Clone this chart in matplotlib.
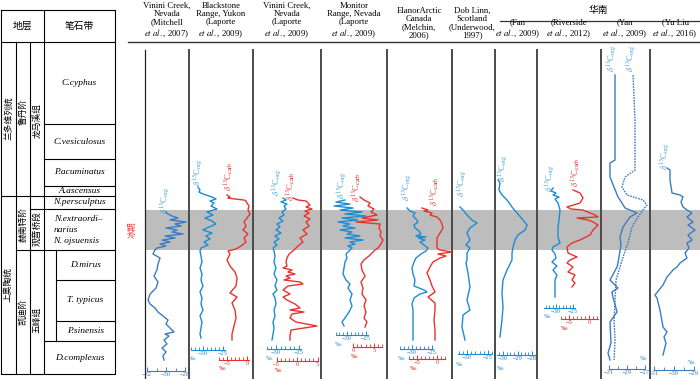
import numpy as np
import matplotlib
matplotlib.use('Agg')
import matplotlib.pyplot as plt
from matplotlib.ticker import FixedLocator

plt.rcParams['font.family'] = ['Liberation Serif', 'Noto Sans CJK SC']
plt.rcParams['mathtext.fontset'] = 'stix'

W, H = 700, 379
BLUE = '#1c8cd4'
BLUE2 = '#3a7cc4'
RED = '#e8332c'
LBLUE = '#3a9fe0'

# ---- stratigraphic column (graptolite zones, depth in section rows) ----
zone_names = ['C.cyphus', 'C.vesiculosus', 'P.acuminatus', 'A.ascensus', 'N.persculptus',
              '', 'D.mirus', 'T. typicus', 'P.sinensis', 'D.complexus']
zone_bounds = [42, 124, 159, 186, 196, 209, 250, 280, 321, 341, 374]
glacial = (210, 250)

# ---- carbon isotope curves: depth (rows) and delta13C (permil) ----
mitchell_d = [212, 214, 216, 218, 220, 222, 224, 226, 228, 230, 232, 234, 236, 238, 240, 242, 244,
              246, 248, 250, 254, 258, 264, 270, 276, 282, 288, 294, 300, 304, 308, 312, 316, 320,
              324, 328, 332, 334, 336, 340, 344, 348, 352, 356, 360]
mitchell_org = [-30.0, -29.79, -29.37, -28.74, -29.58, -27.89, -29.05, -28.42, -30.0, -28.84,
                -29.37, -28.21, -30.11, -29.05, -30.42, -29.58, -30.63, -30.0, -30.95, -31.16,
                -31.37, -30.63, -30.84, -30.95, -31.26, -30.84, -31.05, -31.68, -31.89, -31.68,
                -31.16, -30.84, -30.32, -29.79, -30.0, -29.58, -29.16, -30.11, -29.68, -30.21,
                -29.9, -30.42, -30.0, -30.32, -30.21]

blackstone_d = [187, 190, 192, 194, 197, 199, 201, 203, 206, 209, 212, 215, 218, 221, 224, 227, 230,
                233, 236, 239, 242, 245, 248, 251, 256, 262, 268, 274, 280, 286, 292, 298, 304,
                310, 316, 322, 328, 334, 338]
blackstone_org = [-31.25, -30.75, -31.0, -30.0, -27.75, -26.75, -28.25, -27.25, -28.0, -26.5,
                  -29.0, -27.5, -29.5, -27.75, -26.75, -28.5, -30.0, -27.75, -29.25, -28.25,
                  -29.75, -28.75, -30.5, -30.75, -30.5, -30.25, -30.75, -30.25, -30.5, -30.0,
                  -30.75, -30.25, -30.5, -30.0, -30.75, -30.25, -30.5, -30.75, -30.5]
blackstone_cd = [195, 197, 198, 199, 200, 201, 203, 206, 210, 214, 218, 222, 226, 230, 234, 238,
                 242, 246, 249, 251, 254, 260, 266, 272, 278, 286, 293, 297, 303, 310, 318, 326,
                 334, 340]
blackstone_carb = [-5.0, -4.25, -4.75, -3.0, -0.75, -0.25, 0.0, 0.5, 0.25, 0.75, 0.0, -0.75,
                   -0.25, -1.0, 0.25, -0.75, -0.25, -1.5, -2.75, -4.75, -4.25, -5.0, -4.25, -3.0,
                   -2.5, -2.75, -4.25, -2.5, -3.75, -3.0, -2.75, -3.25, -3.75, -3.75]

vinini_d = [198, 200, 202, 204, 206, 209, 212, 215, 218, 221, 224, 227, 230, 233, 236, 239, 242,
            245, 248, 251, 256, 262, 268, 274, 280, 286, 290, 294, 298, 304, 310, 316, 322, 328,
            334, 340]
vinini_org = [-28.48, -27.83, -28.91, -27.61, -28.26, -27.83, -28.7, -28.26, -29.35, -28.48,
              -29.78, -29.13, -30.0, -28.91, -30.22, -29.35, -30.43, -29.78, -30.65, -30.43,
              -30.22, -30.43, -30.0, -30.43, -29.78, -30.22, -29.78, -30.65, -30.22, -30.0,
              -30.43, -30.22, -30.65, -30.43, -30.65, -30.87]
vinini_cd = [198, 200, 201, 203, 205, 207, 209, 211, 213, 216, 219, 222, 226, 230, 234, 238, 242,
             246, 250, 254, 258, 262, 266, 268, 270, 272, 274, 276, 278, 280, 282, 284, 286, 290,
             294, 297, 300, 304, 308, 310, 312, 314, 318, 322, 326, 330, 336, 340]
vinini_carb = [-0.98, 0.24, 2.2, 2.68, 3.17, 2.2, 3.66, 1.95, 2.93, 1.71, 3.17, 2.2, 2.93, 1.46,
               2.44, 0.73, 1.46, 0.24, -0.73, -1.95, -2.44, -2.68, -2.44, -3.41, -1.22, -2.2,
               -0.49, -2.68, -1.71, -3.17, 0.73, 1.46, -2.2, -3.41, -1.71, -3.41, -2.44, -0.49,
               0.73, -1.71, 1.71, -1.22, -1.71, -0.24, 4.88, -1.46, -1.71, -1.71]

monitor_d = [200, 202, 204, 206, 208, 210, 212, 214, 216, 218, 220, 222, 224, 226, 228, 230, 232,
             234, 236, 238, 240, 242, 244, 246, 248, 250, 254, 258, 262, 268, 274, 280, 284, 288,
             294, 300, 306, 312, 318, 322, 326]
monitor_org = [-30.53, -32.9, -29.21, -33.4, -28.4, -31.84, -26.0, -30.53, -25.0, -31.32,
               -27.2, -32.37, -29.21, -31.05, -27.9, -31.84, -28.68, -30.0, -26.6, -30.53,
               -25.8, -29.21, -27.89, -29.74, -28.68, -29.21, -30.26, -30.0, -30.53, -30.79,
               -31.05, -30.26, -29.21, -29.74, -28.68, -29.21, -28.68, -29.47, -30.53, -31.32,
               -30.79]
monitor_cd = [197, 200, 203, 206, 209, 212, 215, 218, 220, 222, 224, 228, 232, 236, 240, 244, 248,
              250, 252, 256, 260, 264, 270, 276, 282, 288, 294, 300, 306, 312, 318, 322, 327]
monitor_carb = [1.67, 2.62, 4.05, 3.57, 5.0, 4.29, 5.71, 2.14, 5.95, 0.71, 6.43, 6.19, 6.67, 6.43,
                7.14, 6.67, 5.95, 5.24, 4.76, 3.81, 2.62, 1.9, 2.14, 2.86, 1.9, 2.38, 2.14, 3.1,
                2.62, 3.1, 2.62, 3.33, 2.86]

elanor_d = [208, 211, 213, 216, 219, 222, 225, 228, 231, 234, 236, 237, 238, 240, 242, 245, 248,
            251, 254, 258, 262, 268, 274, 280, 286, 290, 292, 294, 298, 304, 310, 320, 330, 340]
elanor_org = [-31.25, -30.5, -29.25, -29.75, -29.0, -28.5, -29.5, -29.25, -28.25, -27.75, -29.0,
              -26.5, -28.5, -26.75, -28.0, -27.0, -26.0, -26.5, -27.75, -29.0, -29.5, -30.0,
              -29.75, -29.25, -29.5, -27.0, -26.25, -28.0, -29.5, -30.0, -29.75, -29.75, -29.75,
              -29.75]
elanor_cd = [208, 210, 211, 213, 215, 217, 220, 224, 228, 233, 238, 244, 248, 250, 252, 254, 256,
             258, 262, 267, 273, 280, 286, 292, 297, 303, 310, 320, 330, 340]
elanor_carb = [-3.75, -2.25, -3.25, -1.25, -1.75, 0.0, 0.75, 1.25, 1.5, 0.75, 0.0, 0.0, 0.0, 0.75,
               3.75, 0.25, 2.25, 0.75, -1.0, -1.75, -2.5, -1.75, -1.25, -0.5, -2.25, -0.5, -0.5,
               -0.75, -0.5, -0.5]

doblinn_d = [207, 210, 215, 220, 223, 228, 233, 240, 245, 248, 253, 260, 263, 273, 287, 300, 310,
             315, 327, 340]
doblinn_org = [-31.67, -30.95, -30.0, -28.81, -27.62, -29.29, -30.0, -29.29, -30.24, -29.29,
               -30.0, -30.0, -30.24, -29.76, -29.29, -30.0, -29.29, -30.95, -31.19, -30.48]

fan_d = [180, 183, 190, 195, 200, 207, 213, 220, 225, 230, 235, 240, 247, 253, 260, 270, 280, 293,
         307, 320, 337]
fan_org = [-30.34, -30.21, -30.28, -30.07, -29.72, -29.38, -29.03, -28.62, -28.34, -28.48, -28.97,
           -29.17, -29.31, -29.38, -29.38, -29.72, -30.0, -30.07, -30.0, -30.07, -30.21]

riverside_d = [188, 191, 193, 195, 197, 199, 203, 210, 220, 227, 237, 243, 247, 250, 254, 258, 262,
               266, 270, 275, 280, 285, 297]
riverside_org = [-30.88, -31.47, -30.0, -30.88, -29.12, -30.29, -29.41, -28.82, -29.12, -29.41,
                 -29.41, -28.82, -30.88, -31.18, -30.29, -30.0, -31.18, -29.71, -30.88, -29.71,
                 -30.29, -30.29, -30.29]
riverside_cd = [190, 193, 198, 203, 207, 209, 210, 213, 215, 217, 218, 220, 222, 225, 230, 235, 240,
                243, 247, 253, 257, 260, 263, 267, 272, 275, 280, 283, 287]
riverside_carb = [-4.0, -2.25, -1.5, -2.25, -5.5, -4.5, -1.5, 0.25, 1.5, 2.25, -3.0, -0.25, 1.0,
                  2.25, 1.0, 0.25, -2.25, -4.25, -5.5, -5.25, -3.0, -4.75, -5.5, -4.0, -5.25,
                  -3.5, -4.25, -3.5, -4.25]

yan_d = [75, 160, 163, 177, 197, 203, 208, 213, 217, 227, 237, 245, 263, 267, 280, 288, 292, 297,
         312, 322, 343, 353, 360]
yan_org = [-30.33, -30.33, -30.89, -30.89, -30.0, -29.56, -29.22, -27.89, -28.67, -29.44, -29.78,
           -29.67, -30.0, -30.11, -30.89, -30.0, -30.67, -30.56, -30.11, -30.89, -30.78, -31.11,
           -30.89]
yan2_d = [75, 120, 170, 177, 187, 195, 200, 205, 210, 217, 227, 243, 257, 267, 280, 300, 320, 340,
          360]
yan2_org = [-28.33, -28.11, -28.11, -29.22, -29.56, -29.0, -27.22, -26.78, -27.22, -27.78, -28.44,
            -28.89, -29.44, -29.78, -30.22, -30.33, -30.44, -30.33, -30.44]

yuliu_d = [168, 170, 180, 193, 195, 197, 202, 207, 210, 213, 217, 222, 225, 230, 235, 240, 243, 248,
           253, 258, 263, 267, 270, 277, 285, 295, 298, 310, 327, 332, 337, 343, 355]
yuliu_org = [-30.35, -30.2, -30.2, -30.1, -29.7, -29.55, -29.65, -29.55, -29.35, -29.1, -29.35,
             -29.05, -29.3, -28.95, -29.3, -29.1, -29.35, -29.25, -29.45, -29.35, -29.7, -29.85,
             -30.05, -30.35, -30.55, -30.95, -30.85, -30.7, -30.55, -30.35, -30.5, -30.4, -30.55]

headers = ['Vinini Creek,\nNevada\n(Mitchell\n$\\mathit{et\\ al.}$, 2007)',
           'Blackstone\nRange, Yukon\n(Laporte\n$\\mathit{et\\ al.}$, 2009)',
           'Vinini Creek,\nNevada\n(Laporte\n$\\mathit{et\\ al.}$, 2009)',
           'Monitor\nRange, Nevada\n(Laporte\n$\\mathit{et\\ al.}$, 2009)',
           'ElanorArctic\nCanada\n(Melchin,\n2006)',
           'Dob Linn,\nScotland\n(Underwood,\n1997)',
           '(Fan\n$\\mathit{et\\ al.}$, 2009)',
           '(Riverside\n$\\mathit{et\\ al.}$, 2012)',
           '(Yan\n$\\mathit{et\\ al.}$, 2009)',
           '(Yu Liu\n$\\mathit{et\\ al.}$, 2016)']
header_x = [167, 221, 287, 354, 419, 472, 518, 569, 625, 675]

seps = [145, 189, 253, 321, 387, 452, 495, 537, 601, 650, 700]

fig = plt.figure(figsize=(7, 3.79), dpi=100)
bg = fig.add_axes([0, 0, 1, 1])
bg.set_xlim(0, W)
bg.set_ylim(H, 0)
bg.axis('off')

# glacial band
bg.axhspan(glacial[0], glacial[1], xmin=146 / W, xmax=1, color='#bdbdbd', lw=0, zorder=0)
bg.text(133, 230, '冰期', color=RED, fontsize=6, rotation=90, ha='center', va='center')

# table
lk = dict(color='black', lw=0.8)
bg.plot([1, 115, 115, 1, 1], [10, 10, 374, 374, 10], **lk)
bg.plot([1, 115], [42, 42], **lk)
bg.plot([44, 44], [10, 374], **lk)
bg.plot([16, 16], [42, 374], **lk)
bg.plot([30, 30], [42, 374], **lk)
bg.plot([56, 56], [250, 341], **lk)
bg.plot([1, 115], [196, 196], **lk)
bg.plot([30, 115], [209, 209], **lk)
bg.plot([16, 115], [250, 250], **lk)
for yb in zone_bounds[1:4]:
    bg.plot([44, 115], [yb, yb], **lk)
for yb in zone_bounds[7:9]:
    bg.plot([56, 115], [yb, yb], **lk)
bg.plot([44, 115], [341, 341], **lk)

bg.text(22, 26, '地层', fontsize=7, ha='center', va='center')
bg.text(79, 26, '笔石带', fontsize=7, ha='center', va='center')
vt = dict(fontsize=6.3, rotation=90, ha='center', va='center')
bg.text(8.5, 118, '兰多维列统', **vt)
bg.text(8.5, 284, '上奥陶统', **vt)
bg.text(23, 112, '鲁丹阶', **vt)
bg.text(23, 224, '赫南特阶', **vt)
bg.text(23, 312, '凯迪阶', **vt)
bg.text(37, 120, '龙马溪组', **vt)
bg.text(37, 229, '观音桥段', **vt)
bg.text(37, 320, '五峰组', **vt)

for i, name in enumerate(zone_names):
    if not name:
        continue
    yc = (zone_bounds[i] + zone_bounds[i + 1]) / 2
    xc = 85.5 if 6 <= i <= 8 else 79.5
    bg.text(xc, yc, name, fontsize=6.8, style='italic', ha='center', va='center')
bg.text(54, 219, 'N.extraordi–', fontsize=6.8, style='italic', ha='left', va='center')
bg.text(54, 230, 'narius', fontsize=6.8, style='italic', ha='left', va='center')
bg.text(53, 241, 'N. ojsuensis', fontsize=6.8, style='italic', ha='left', va='center')

# panel separators and header
for i, xs in enumerate(seps[:-1]):
    bg.plot([xs, xs], [50, H], color='#4a4a4a' if i else '#222222', lw=1.4 if i else 0.9)
bg.plot([128, 700], [42, 42], color='#333333', lw=1.0)
bg.plot([500, 700], [21, 21], color='#333333', lw=0.9)
bg.text(598, 10, '华南', fontsize=7, ha='center', va='center')
for txt, xc in zip(headers, header_x):
    bg.text(xc, 39.5, txt, fontsize=6.3, ha='center', va='bottom', linespacing=1.05,
            multialignment='center')


def panel(x0, x1, ref_px, ref_val, ppu):
    ax = fig.add_axes([x0 / W, 0, (x1 - x0) / W, 1])
    ax.set_xlim(ref_val - (ref_px - x0) / ppu, ref_val + (x1 - ref_px) / ppu)
    ax.set_ylim(H, 0)
    ax.patch.set_alpha(0)
    for s in ax.spines.values():
        s.set_visible(False)
    ax.set_yticks([])
    ax.set_xticks([])
    return ax


def scale_bar(ax, y, lo, hi, major, step, color):
    sp = ax.spines['bottom']
    sp.set_visible(True)
    sp.set_position(('data', y))
    sp.set_bounds(lo, hi)
    sp.set_color(color)
    sp.set_linewidth(0.8)
    ax.set_xticks(major)
    ax.set_xticklabels([('%g' % v).replace('-', '−') for v in major])
    minor = np.arange(np.ceil(lo / step) * step, hi + 1e-6, step)
    ax.xaxis.set_minor_locator(FixedLocator(minor))
    ax.tick_params(axis='x', which='major', direction='in', length=3, width=0.7,
                   color=color, labelcolor=color, labelsize=4.6, pad=1)
    ax.tick_params(axis='x', which='minor', direction='in', length=2, width=0.6, color=color)


def permil(x, y, color):
    bg.text(x, y, '‰', color=color, fontsize=4.6, ha='left', va='center')


def dlabel(x, y, sub, color):
    bg.text(x, y, r'$\delta^{13}$C$_{\rm %s}$' % sub, color=color, fontsize=6.3,
            rotation=90, ha='center', va='center')


lw = 1.0
# 1 Mitchell
a = panel(145, 189, 147, -32, 9.5)
a.plot(mitchell_org, mitchell_d, color=BLUE2, lw=lw)
scale_bar(a, 371, -32, -28, [-32, -30, -28], 1, BLUE2)
dlabel(165, 200, 'org', LBLUE)

# 2 Blackstone
a = panel(189, 253, 203, -30, 4)
a.plot(blackstone_org, blackstone_d, color=BLUE, lw=lw)
scale_bar(a, 350, -33, -24.5, [-30, -25], 1, BLUE)
b = panel(189, 253, 247, 0, 4)
b.plot(blackstone_carb, blackstone_cd, color=RED, lw=lw)
scale_bar(b, 360, -7, 0.5, [-5, 0], 1, RED)
dlabel(198, 172, 'org', LBLUE)
dlabel(229, 176, 'carb', RED)
permil(189, 359, LBLUE)
permil(219, 369, RED)

# 3 Vinini (Laporte)
a = panel(253, 321, 276, -30, 4.6)
a.plot(vinini_org, vinini_d, color=BLUE, lw=lw)
scale_bar(a, 349, -32, -24.5, [-30, -25], 1, BLUE)
b = panel(253, 321, 297, 0, 4.1)
b.plot(vinini_carb, vinini_cd, color=RED, lw=lw)
scale_bar(b, 361, -5, 5, [-5, 0, 5], 1, RED)
dlabel(277, 182, 'org', LBLUE)
dlabel(291, 186, 'carb', RED)
permil(266, 358, LBLUE)
permil(275, 371, RED)

# 4 Monitor
a = panel(321, 387, 347, -30, 3.8)
a.plot(monitor_org, monitor_d, color=BLUE, lw=lw)
scale_bar(a, 335, -33, -24.5, [-30, -25], 1, BLUE)
b = panel(321, 387, 353, 0, 4.2)
b.plot(monitor_carb, monitor_cd, color=RED, lw=lw)
scale_bar(b, 347, 0, 7, [0, 5], 1, RED)
dlabel(342, 185, 'org', LBLUE)
dlabel(357, 187, 'carb', RED)
permil(335, 345, LBLUE)
permil(351, 357, RED)

# 5 Elanor
a = panel(387, 452, 412, -30, 4)
a.plot(elanor_org, elanor_d, color=BLUE, lw=lw)
scale_bar(a, 349, -33, -24.75, [-30, -25], 1, BLUE)
b = panel(387, 452, 437, 0, 4)
b.plot(elanor_carb, elanor_cd, color=RED, lw=lw)
scale_bar(b, 359, -7, 2, [-5, 0], 1, RED)
dlabel(407, 187, 'org', LBLUE)
dlabel(435, 191, 'carb', RED)
permil(398, 358, LBLUE)
permil(410, 368, RED)

# 6 Dob Linn
a = panel(452, 495, 467, -30, 4.2)
a.plot(doblinn_org, doblinn_d, color=BLUE, lw=lw)
scale_bar(a, 354, -32.25, -24, [-30, -25], 1, BLUE)
dlabel(462, 183, 'org', LBLUE)
permil(456, 365, LBLUE)

# 7 Fan
a = panel(495, 537, 503, -30, 14.5)
a.plot(fan_org, fan_d, color=BLUE, lw=lw)
scale_bar(a, 355, -30.4, -27.8, [-30, -29, -28], 0.25, BLUE)
dlabel(503, 168, 'org', LBLUE)
permil(497, 369, LBLUE)

# 8 Riverside
a = panel(537, 601, 556, -30, 3.4)
a.plot(riverside_org, riverside_d, color=BLUE, lw=lw)
scale_bar(a, 308, -33.5, -24.5, [-30, -25], 1, BLUE)
b = panel(537, 601, 589, 0, 4)
b.plot(riverside_carb, riverside_cd, color=RED, lw=lw)
scale_bar(b, 319, -7, 2.25, [-5, 0], 1, RED)
dlabel(550, 178, 'org', LBLUE)
dlabel(576, 172, 'carb', RED)
permil(544, 317, LBLUE)
permil(561, 328, RED)

# 9 Yan
a = panel(601, 650, 609, -31, 9)
a.plot(yan_org, yan_d, color=BLUE2, lw=lw)
a.plot(yan2_org, yan2_d, color=BLUE2, lw=lw, ls=(0, (1.2, 0.8)))
scale_bar(a, 369, -31, -27, [-31, -29, -27], 2, BLUE2)
dlabel(612, 58, 'org', LBLUE)
dlabel(631, 58, 'org', LBLUE)
permil(640, 359, LBLUE)

# 10 Yu Liu
a = panel(650, 700, 674, -30, 20)
a.plot(yuliu_org, yuliu_d, color=BLUE2, lw=lw)
scale_bar(a, 370, -31, -29, [-31, -30, -29], 0.5, BLUE2)
dlabel(665, 156, 'org', LBLUE)
permil(688, 362, LBLUE)

fig.savefig('out.png', dpi=100)
